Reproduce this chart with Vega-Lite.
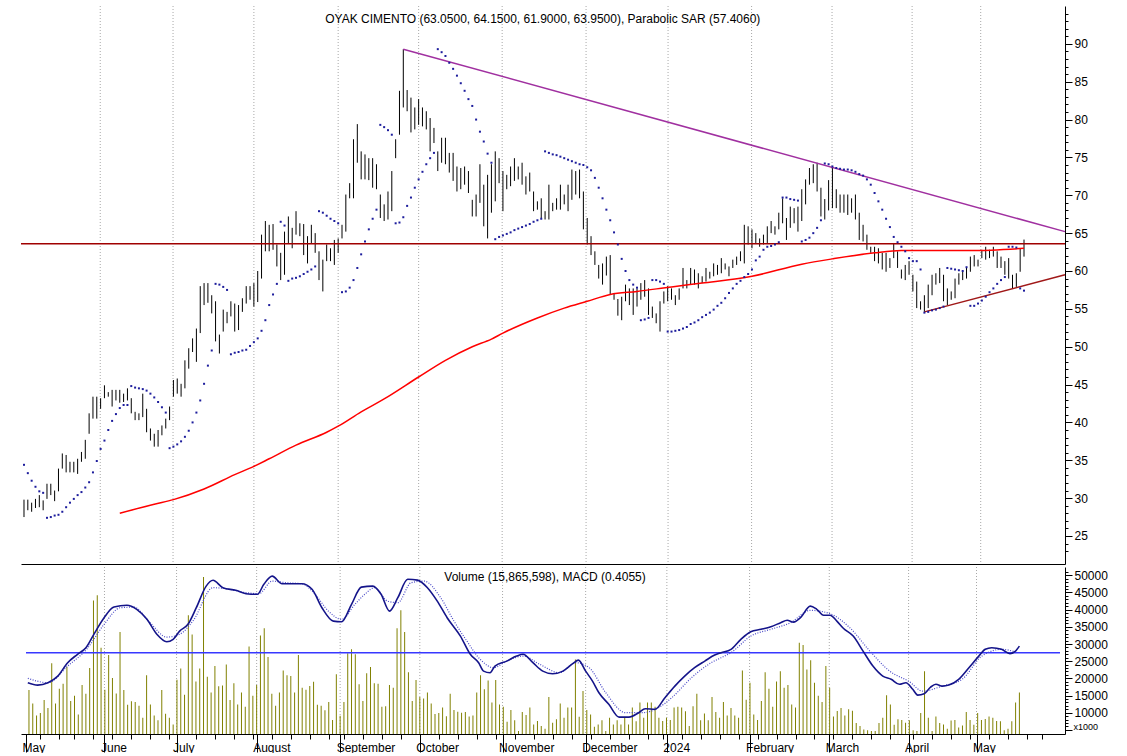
{
"$schema": "https://vega.github.io/schema/vega-lite/v6.json",
"padding": {"left": 18, "top": 5, "right": 0, "bottom": 0},
"background": "#ffffff",
"spacing": 0,
"config": {"view": {"stroke": null}, "font": "Liberation Sans",
  "axis": {"labelFont": "Liberation Sans", "labelFontSize": 12, "labelColor": "#000000", "domainColor": "#000000", "tickColor": "#000000", "titleFont": "Liberation Sans", "titleColor": "#000000", "labelOverlap": false, "labelFlush": false, "grid": false}},
"datasets": {
"bars": [
{"t":0,"h":29.8,"l":27.5,"s":34.4,"v":16600},{"t":1,"h":29.8,"l":28.4,"s":33.3,"v":12700},{"t":2,"h":29.4,"l":28.2,"s":32.3,"v":9200},{"t":3,"h":29.9,"l":28.7,"s":31.5,"v":9900},{"t":4,"h":30.4,"l":28.8,"s":30.9,"v":13700},{"t":5,"h":29.7,"l":28.4,"s":30.7,"v":11400},{"t":6,"h":31.9,"l":29.9,"s":27.4,"v":24400},{"t":7,"h":31.9,"l":30.4,"s":27.5,"v":12700},{"t":8,"h":31.0,"l":29.6,"s":27.7,"v":17000},{"t":9,"h":33.9,"l":30.9,"s":27.8,"v":18400},
{"t":10,"h":35.9,"l":33.9,"s":28.2,"v":23400},{"t":11,"h":35.7,"l":33.4,"s":28.8,"v":13400},{"t":12,"h":34.8,"l":33.4,"s":29.4,"v":14900},{"t":13,"h":34.8,"l":33.4,"s":29.9,"v":9500},{"t":14,"h":35.2,"l":33.2,"s":30.4,"v":18100},{"t":15,"h":36.1,"l":34.8,"s":30.8,"v":15500},{"t":16,"h":37.7,"l":35.2,"s":31.4,"v":23000},{"t":17,"h":41.2,"l":38.5,"s":32.1,"v":42700},{"t":18,"h":43.4,"l":40.5,"s":33.4,"v":44200},{"t":19,"h":43.4,"l":40.5,"s":34.9,"v":28900},
{"t":20,"h":43.2,"l":41.8,"s":36.5,"v":16700},{"t":21,"h":44.9,"l":43.2,"s":37.6,"v":26800},{"t":22,"h":44.0,"l":43.4,"s":39.0,"v":20100},{"t":23,"h":44.3,"l":42.1,"s":40.2,"v":15600},{"t":24,"h":44.3,"l":42.9,"s":41.1,"v":33500},{"t":25,"h":44.3,"l":42.6,"s":41.9,"v":16600},{"t":26,"h":43.8,"l":42.7,"s":42.3,"v":12300},{"t":27,"h":44.5,"l":42.9,"s":42.3,"v":13300},{"t":28,"h":43.2,"l":41.2,"s":44.8,"v":13100},{"t":29,"h":41.4,"l":40.3,"s":44.6,"v":12000},
{"t":30,"h":41.2,"l":40.3,"s":44.5,"v":8500},{"t":31,"h":43.8,"l":40.7,"s":44.4,"v":20900},{"t":32,"h":41.8,"l":38.7,"s":44.2,"v":12400},{"t":33,"h":39.2,"l":37.6,"s":43.8,"v":9200},{"t":34,"h":38.5,"l":36.8,"s":43.3,"v":7800},{"t":35,"h":39.0,"l":36.8,"s":42.7,"v":16600},{"t":36,"h":39.6,"l":38.3,"s":42.0,"v":9700},{"t":37,"h":40.5,"l":39.2,"s":41.3,"v":8500},{"t":38,"h":42.1,"l":40.3,"s":36.6,"v":6600},{"t":39,"h":45.6,"l":43.4,"s":36.8,"v":19600},
{"t":40,"h":45.8,"l":43.8,"s":37.1,"v":22900},{"t":41,"h":45.1,"l":43.4,"s":37.5,"v":15200},{"t":42,"h":48.2,"l":44.5,"s":38.1,"v":38400},{"t":43,"h":49.8,"l":47.1,"s":38.9,"v":32800},{"t":44,"h":51.1,"l":49.3,"s":40.0,"v":19100},{"t":45,"h":52.4,"l":48.0,"s":41.3,"v":22900},{"t":46,"h":58.0,"l":51.8,"s":42.9,"v":49500},{"t":47,"h":58.4,"l":55.5,"s":45.1,"v":20500},{"t":48,"h":58.4,"l":55.8,"s":47.5,"v":15900},{"t":49,"h":56.8,"l":54.4,"s":49.5,"v":23600},
{"t":50,"h":56.0,"l":50.7,"s":58.3,"v":17700},{"t":51,"h":51.6,"l":49.1,"s":58.2,"v":17900},{"t":52,"h":54.9,"l":52.0,"s":57.9,"v":24000},{"t":53,"h":54.6,"l":53.1,"s":57.5,"v":13700},{"t":54,"h":56.0,"l":54.0,"s":49.0,"v":18600},{"t":55,"h":55.7,"l":52.0,"s":49.2,"v":12400},{"t":56,"h":55.5,"l":52.2,"s":49.3,"v":15900},{"t":57,"h":56.4,"l":54.6,"s":49.5,"v":11700},{"t":58,"h":58.0,"l":55.7,"s":49.6,"v":29300},{"t":59,"h":58.0,"l":56.2,"s":50.1,"v":14900},
{"t":60,"h":58.4,"l":55.3,"s":50.6,"v":18100},{"t":61,"h":60.0,"l":55.9,"s":51.1,"v":32500},{"t":62,"h":64.8,"l":59.0,"s":52.1,"v":34600},{"t":63,"h":66.6,"l":62.6,"s":53.5,"v":26200},{"t":64,"h":66.1,"l":62.6,"s":55.5,"v":15500},{"t":65,"h":66.2,"l":62.8,"s":56.9,"v":12000},{"t":66,"h":63.5,"l":60.6,"s":58.3,"v":15900},{"t":67,"h":62.4,"l":58.8,"s":66.5,"v":22300},{"t":68,"h":65.2,"l":59.5,"s":66.0,"v":20900},{"t":69,"h":67.2,"l":63.7,"s":58.7,"v":20700},
{"t":70,"h":65.7,"l":63.0,"s":59.0,"v":15900},{"t":71,"h":67.9,"l":64.8,"s":59.1,"v":26800},{"t":72,"h":66.3,"l":64.6,"s":59.3,"v":17300},{"t":73,"h":66.2,"l":62.1,"s":59.6,"v":16700},{"t":74,"h":64.6,"l":61.0,"s":59.9,"v":17800},{"t":75,"h":66.1,"l":63.7,"s":60.2,"v":19000},{"t":76,"h":65.0,"l":62.4,"s":60.6,"v":12300},{"t":77,"h":62.6,"l":58.8,"s":67.9,"v":12000},{"t":78,"h":61.5,"l":57.3,"s":67.7,"v":10700},{"t":79,"h":63.5,"l":61.3,"s":67.3,"v":13100},
{"t":80,"h":63.0,"l":61.3,"s":66.9,"v":7900},{"t":81,"h":64.1,"l":60.8,"s":66.6,"v":21200},{"t":82,"h":64.3,"l":62.4,"s":66.3,"v":9100},{"t":83,"h":66.1,"l":64.3,"s":57.2,"v":13100},{"t":84,"h":70.1,"l":65.2,"s":57.3,"v":27300},{"t":85,"h":71.6,"l":69.6,"s":57.8,"v":28500},{"t":86,"h":77.4,"l":69.6,"s":58.8,"v":27000},{"t":87,"h":79.4,"l":74.3,"s":60.4,"v":18300},{"t":88,"h":75.8,"l":72.1,"s":62.2,"v":13400},{"t":89,"h":75.4,"l":72.1,"s":63.9,"v":21500},
{"t":90,"h":74.9,"l":72.0,"s":65.5,"v":23300},{"t":91,"h":74.9,"l":71.0,"s":66.9,"v":18600},{"t":92,"h":74.1,"l":70.8,"s":68.1,"v":18400},{"t":93,"h":70.1,"l":67.0,"s":79.3,"v":11700},{"t":94,"h":68.8,"l":66.6,"s":79.0,"v":11900},{"t":95,"h":70.5,"l":66.8,"s":78.6,"v":18100},{"t":96,"h":73.2,"l":67.9,"s":78.0,"v":17300},{"t":97,"h":77.4,"l":74.9,"s":66.3,"v":34600},{"t":98,"h":83.8,"l":78.0,"s":66.4,"v":39800},{"t":99,"h":89.3,"l":81.6,"s":67.1,"v":33500},
{"t":100,"h":83.9,"l":81.1,"s":68.6,"v":21800},{"t":101,"h":82.9,"l":78.3,"s":69.7,"v":13400},{"t":102,"h":81.6,"l":78.7,"s":71.0,"v":19500},{"t":103,"h":82.7,"l":79.3,"s":72.1,"v":14600},{"t":104,"h":81.6,"l":79.1,"s":73.1,"v":14100},{"t":105,"h":81.1,"l":78.7,"s":74.1,"v":15900},{"t":106,"h":80.2,"l":75.8,"s":74.9,"v":12700},{"t":107,"h":78.9,"l":76.9,"s":75.6,"v":9600},{"t":108,"h":75.8,"l":73.2,"s":89.3,"v":9900},{"t":109,"h":77.6,"l":74.3,"s":88.9,"v":11500},
{"t":110,"h":77.6,"l":74.1,"s":88.4,"v":9000},{"t":111,"h":75.6,"l":73.0,"s":87.5,"v":15500},{"t":112,"h":75.6,"l":71.9,"s":86.7,"v":10800},{"t":113,"h":73.8,"l":70.5,"s":85.8,"v":10300},{"t":114,"h":73.6,"l":70.8,"s":84.8,"v":10000},{"t":115,"h":73.8,"l":71.4,"s":83.8,"v":10200},{"t":116,"h":73.2,"l":70.3,"s":82.7,"v":8900},{"t":117,"h":69.4,"l":67.2,"s":81.8,"v":9200},{"t":118,"h":70.1,"l":67.2,"s":80.0,"v":15900},{"t":119,"h":74.1,"l":69.0,"s":78.4,"v":20900},
{"t":120,"h":71.4,"l":65.9,"s":77.1,"v":16800},{"t":121,"h":72.7,"l":64.3,"s":75.5,"v":19400},{"t":122,"h":74.1,"l":67.7,"s":74.3,"v":13000},{"t":123,"h":75.8,"l":69.2,"s":64.2,"v":19500},{"t":124,"h":74.9,"l":71.6,"s":64.5,"v":12400},{"t":125,"h":73.2,"l":67.9,"s":64.7,"v":11700},{"t":126,"h":72.7,"l":70.8,"s":64.9,"v":7400},{"t":127,"h":73.8,"l":71.2,"s":65.1,"v":10800},{"t":128,"h":74.9,"l":71.9,"s":65.4,"v":7800},{"t":129,"h":73.8,"l":72.1,"s":65.6,"v":4700},
{"t":130,"h":74.3,"l":71.4,"s":65.8,"v":10200},{"t":131,"h":72.5,"l":70.1,"s":66.0,"v":9300},{"t":132,"h":73.0,"l":70.5,"s":66.2,"v":11500},{"t":133,"h":70.5,"l":67.9,"s":66.5,"v":6600},{"t":134,"h":69.2,"l":68.1,"s":66.7,"v":7600},{"t":135,"h":69.6,"l":67.0,"s":66.9,"v":6100},{"t":136,"h":67.9,"l":66.8,"s":75.8,"v":5300},{"t":137,"h":71.4,"l":66.8,"s":75.6,"v":14600},{"t":138,"h":69.0,"l":67.9,"s":75.4,"v":7100},{"t":139,"h":69.6,"l":68.1,"s":75.3,"v":8100},
{"t":140,"h":71.4,"l":68.1,"s":75.1,"v":12700},{"t":141,"h":70.1,"l":68.8,"s":74.9,"v":8500},{"t":142,"h":71.4,"l":67.9,"s":74.7,"v":11500},{"t":143,"h":73.4,"l":69.4,"s":74.5,"v":11500},{"t":144,"h":73.2,"l":70.1,"s":74.3,"v":25500},{"t":145,"h":73.4,"l":69.6,"s":74.1,"v":8800},{"t":146,"h":70.5,"l":65.5,"s":74.0,"v":16300},{"t":147,"h":67.0,"l":63.5,"s":73.7,"v":10800},{"t":148,"h":64.6,"l":62.1,"s":73.3,"v":9500},{"t":149,"h":62.6,"l":60.8,"s":72.3,"v":5900},
{"t":150,"h":60.8,"l":59.0,"s":71.0,"v":6600},{"t":151,"h":61.0,"l":58.2,"s":69.6,"v":7800},{"t":152,"h":61.9,"l":59.4,"s":68.1,"v":4700},{"t":153,"h":62.1,"l":56.9,"s":66.7,"v":8500},{"t":154,"h":57.1,"l":56.2,"s":65.1,"v":6600},{"t":155,"h":56.3,"l":54.1,"s":63.5,"v":7800},{"t":156,"h":56.6,"l":53.5,"s":61.6,"v":6600},{"t":157,"h":58.2,"l":56.0,"s":60.0,"v":8500},{"t":158,"h":57.7,"l":55.5,"s":58.8,"v":6600},{"t":159,"h":57.7,"l":54.2,"s":58.2,"v":11500},
{"t":160,"h":57.7,"l":55.3,"s":57.8,"v":7500},{"t":161,"h":58.4,"l":56.2,"s":53.5,"v":13000},{"t":162,"h":58.8,"l":56.6,"s":53.6,"v":8500},{"t":163,"h":57.7,"l":54.2,"s":53.8,"v":13000},{"t":164,"h":55.3,"l":53.8,"s":58.8,"v":13000},{"t":165,"h":54.4,"l":53.1,"s":58.8,"v":11700},{"t":166,"h":56.0,"l":52.0,"s":58.6,"v":8500},{"t":167,"h":57.3,"l":55.7,"s":58.3,"v":7600},{"t":168,"h":58.0,"l":56.0,"s":52.0,"v":8500},{"t":169,"h":57.7,"l":56.2,"s":52.0,"v":7900},
{"t":170,"h":56.8,"l":55.5,"s":52.1,"v":11500},{"t":171,"h":57.7,"l":56.2,"s":52.2,"v":11700},{"t":172,"h":60.4,"l":57.7,"s":52.4,"v":11500},{"t":173,"h":58.8,"l":57.7,"s":52.6,"v":10400},{"t":174,"h":60.4,"l":58.2,"s":53.0,"v":6100},{"t":175,"h":60.2,"l":58.2,"s":53.2,"v":11900},{"t":176,"h":59.7,"l":57.7,"s":53.5,"v":15500},{"t":177,"h":59.3,"l":58.4,"s":53.9,"v":7800},{"t":178,"h":60.4,"l":58.6,"s":54.2,"v":9800},{"t":179,"h":59.9,"l":59.0,"s":54.5,"v":7800},
{"t":180,"h":61.0,"l":59.3,"s":54.9,"v":14600},{"t":181,"h":60.8,"l":59.5,"s":55.4,"v":10200},{"t":182,"h":61.7,"l":59.7,"s":55.8,"v":8500},{"t":183,"h":61.0,"l":60.2,"s":56.4,"v":13100},{"t":184,"h":60.6,"l":59.3,"s":57.1,"v":9200},{"t":185,"h":61.5,"l":60.4,"s":57.7,"v":11400},{"t":186,"h":61.9,"l":60.8,"s":58.3,"v":9200},{"t":187,"h":62.6,"l":61.3,"s":58.7,"v":8500},{"t":188,"h":66.1,"l":61.0,"s":59.2,"v":22300},{"t":189,"h":65.9,"l":63.5,"s":59.6,"v":13800},
{"t":190,"h":65.5,"l":63.0,"s":60.2,"v":18700},{"t":191,"h":65.0,"l":63.7,"s":61.4,"v":9500},{"t":192,"h":64.3,"l":63.2,"s":61.9,"v":7900},{"t":193,"h":64.8,"l":63.5,"s":62.8,"v":13400},{"t":194,"h":65.9,"l":63.7,"s":63.2,"v":21800},{"t":195,"h":66.6,"l":65.0,"s":63.3,"v":17000},{"t":196,"h":65.9,"l":64.8,"s":63.5,"v":11700},{"t":197,"h":67.7,"l":65.5,"s":63.8,"v":19100},{"t":198,"h":69.6,"l":66.3,"s":69.7,"v":22100},{"t":199,"h":67.0,"l":64.1,"s":69.7,"v":17300},
{"t":200,"h":68.5,"l":65.7,"s":69.5,"v":18100},{"t":201,"h":68.3,"l":66.3,"s":69.4,"v":12400},{"t":202,"h":68.5,"l":65.2,"s":69.3,"v":11500},{"t":203,"h":70.8,"l":66.6,"s":63.9,"v":30400},{"t":204,"h":72.1,"l":68.8,"s":64.1,"v":29700},{"t":205,"h":73.6,"l":71.4,"s":64.4,"v":22600},{"t":206,"h":74.1,"l":71.6,"s":65.0,"v":25300},{"t":207,"h":74.3,"l":70.5,"s":65.7,"v":18700},{"t":208,"h":71.0,"l":67.2,"s":66.7,"v":14900},{"t":209,"h":69.5,"l":66.8,"s":74.2,"v":13100},
{"t":210,"h":72.0,"l":68.0,"s":74.1,"v":23600},{"t":211,"h":73.6,"l":68.3,"s":73.8,"v":17300},{"t":212,"h":70.8,"l":68.3,"s":73.6,"v":8900},{"t":213,"h":70.1,"l":67.7,"s":73.5,"v":10500},{"t":214,"h":70.1,"l":67.7,"s":73.4,"v":11400},{"t":215,"h":70.1,"l":67.4,"s":73.4,"v":9200},{"t":216,"h":69.6,"l":67.7,"s":73.3,"v":11000},{"t":217,"h":70.1,"l":66.8,"s":73.1,"v":10600},{"t":218,"h":67.7,"l":64.1,"s":72.8,"v":7000},{"t":219,"h":66.1,"l":63.9,"s":72.6,"v":6100},
{"t":220,"h":64.8,"l":62.8,"s":72.1,"v":5100},{"t":221,"h":63.2,"l":62.4,"s":71.4,"v":4900},{"t":222,"h":63.2,"l":61.3,"s":70.3,"v":4700},{"t":223,"h":63.0,"l":61.0,"s":69.2,"v":4700},{"t":224,"h":62.4,"l":60.2,"s":68.1,"v":7000},{"t":225,"h":62.4,"l":59.9,"s":66.9,"v":8500},{"t":226,"h":61.7,"l":60.4,"s":65.8,"v":15100},{"t":227,"h":63.7,"l":61.7,"s":64.5,"v":12400},{"t":228,"h":62.6,"l":60.4,"s":63.8,"v":6500},{"t":229,"h":60.2,"l":59.0,"s":63.2,"v":8100},
{"t":230,"h":60.8,"l":58.8,"s":62.6,"v":7900},{"t":231,"h":61.3,"l":59.5,"s":61.7,"v":7100},{"t":232,"h":59.5,"l":57.3,"s":61.3,"v":7800},{"t":233,"h":58.6,"l":55.1,"s":61.3,"v":4900},{"t":234,"h":56.0,"l":54.9,"s":60.2,"v":4700},{"t":235,"h":56.8,"l":54.6,"s":54.5,"v":9900},{"t":236,"h":58.2,"l":55.1,"s":54.6,"v":22100},{"t":237,"h":59.5,"l":56.8,"s":54.8,"v":8500},{"t":238,"h":59.7,"l":58.2,"s":54.9,"v":4700},{"t":239,"h":60.4,"l":58.4,"s":55.1,"v":8900},
{"t":240,"h":59.5,"l":56.0,"s":55.3,"v":7000},{"t":241,"h":57.7,"l":55.5,"s":60.4,"v":6600},{"t":242,"h":57.3,"l":56.2,"s":60.3,"v":5300},{"t":243,"h":59.0,"l":56.4,"s":60.2,"v":7700},{"t":244,"h":59.7,"l":58.2,"s":60.1,"v":7900},{"t":245,"h":59.9,"l":58.8,"s":60.0,"v":5700},{"t":246,"h":60.4,"l":59.0,"s":60.5,"v":6300},{"t":247,"h":61.9,"l":59.9,"s":55.4,"v":10200},{"t":248,"h":62.1,"l":60.6,"s":55.4,"v":7900},{"t":249,"h":61.5,"l":60.6,"s":55.7,"v":6500},
{"t":250,"h":62.8,"l":61.7,"s":56.1,"v":9900},{"t":251,"h":63.2,"l":61.5,"s":56.6,"v":7900},{"t":252,"h":62.8,"l":61.7,"s":57.2,"v":8200},{"t":253,"h":63.2,"l":61.9,"s":57.7,"v":8900},{"t":254,"h":62.6,"l":60.4,"s":58.3,"v":8500},{"t":255,"h":61.9,"l":60.4,"s":58.8,"v":7600},{"t":256,"h":61.3,"l":59.5,"s":59.2,"v":7500},{"t":257,"h":61.7,"l":59.0,"s":63.2,"v":4900},{"t":258,"h":59.5,"l":57.7,"s":63.2,"v":5300},{"t":259,"h":59.7,"l":57.9,"s":63.1,"v":7500},
{"t":260,"h":63.0,"l":59.9,"s":57.7,"v":13000},{"t":261,"h":64.15,"l":61.9,"s":57.406,"v":15866}
],
"ma": [
{"t":25,"m":28.0},{"t":34,"m":29.2},{"t":39,"m":29.8},{"t":47,"m":31.2},{"t":55,"m":33.1},{"t":60,"m":34.2},{"t":64,"m":35.2},{"t":71,"m":37.0},{"t":79,"m":38.7},{"t":82,"m":39.5},{"t":88,"m":41.4},{"t":94,"m":43.1},{"t":103,"m":46.0},{"t":110,"m":48.2},{"t":117,"m":50.0},{"t":122,"m":51.0},{"t":125,"m":51.8},{"t":134,"m":53.8},{"t":141,"m":55.1},{"t":147,"m":56.0},{"t":153,"m":56.9},{"t":160,"m":57.3},{"t":169,"m":57.9},{"t":177,"m":58.4},{"t":190,"m":59.3},{"t":203,"m":60.9},{"t":211,"m":61.6},{"t":222,"m":62.4},{"t":229,"m":62.7},{"t":247,"m":62.7},{"t":261,"m":63.0}
],
"tl": [
{"t":99,"p":89.3,"k":"r"},{"t":271.7,"p":65.2,"k":"r"},{"t":235,"p":54.6,"k":"s"},{"t":271.7,"p":59.5,"k":"s"}
],
"hl": [{"t":-0.78,"p":63.6},{"t":271.7,"p":63.6}],
"zero": [{"t":-0.78,"a":0},{"t":271.7,"a":0}],
"months": [{"t":19.9},{"t":38.9},{"t":60},{"t":82},{"t":103},{"t":124.8},{"t":146.7},{"t":168.1},{"t":189.9},{"t":210.9},{"t":231.8},{"t":249.7}],
"ttop": [{"t":135.4,"p":93.28,"txt":"OYAK CIMENTO (63.0500, 64.1500, 61.9000, 63.9500), Parabolic SAR (57.4060)"}],
"tbot": [{"t":136,"v":49500,"txt":"Volume (15,865,598), MACD (0.4055)"}],
"macd": [
{"t":-0.3,"a":-1.5},{"t":2.3,"a":-1.62},{"t":5,"a":-1.5},{"t":7.6,"a":-1.17},{"t":10.2,"a":-0.5},{"t":12.8,"a":-0.08},{"t":15,"a":0.25},{"t":17.1,"a":0.92},{"t":19.8,"a":1.75},{"t":22.4,"a":2.28},{"t":25.8,"a":2.37},{"t":28.4,"a":2.17},{"t":31.1,"a":1.67},{"t":33.7,"a":0.92},{"t":36.3,"a":0.55},{"t":38,"a":0.67},{"t":39.7,"a":1.08},{"t":41.9,"a":1.42},{"t":44.1,"a":2.25},{"t":46.7,"a":3.33},{"t":48.5,"a":3.62},{"t":51.1,"a":3.25},{"t":54.5,"a":3.12},{"t":57.2,"a":2.95},{"t":60.2,"a":2.92},{"t":61.9,"a":3.42},{"t":64.1,"a":3.83},{"t":66.7,"a":3.45},{"t":69.3,"a":3.45},{"t":71.9,"a":3.45},{"t":74.6,"a":3.17},{"t":77.2,"a":2.25},{"t":80.2,"a":1.58},{"t":82.4,"a":1.55},{"t":85,"a":2.42},{"t":87.6,"a":3.28},{"t":90.6,"a":3.33},{"t":92.8,"a":2.92},{"t":95,"a":2.08},{"t":97.2,"a":2.75},{"t":99.8,"a":3.67},{"t":102.4,"a":3.63},{"t":105,"a":3.25},{"t":107.6,"a":2.58},{"t":110.2,"a":1.75},{"t":113.7,"a":0.83},{"t":116.3,"a":-0.08},{"t":118.5,"a":-0.5},{"t":119.8,"a":-0.92},{"t":121.5,"a":-1.0},{"t":122.8,"a":-0.67},{"t":125.9,"a":-0.42},{"t":128.5,"a":-0.17},{"t":130.2,"a":-0.08},{"t":132.8,"a":-0.5},{"t":135.4,"a":-0.92},{"t":138,"a":-1.05},{"t":140.7,"a":-0.92},{"t":143.3,"a":-0.55},{"t":144.8,"a":-0.37},{"t":146.7,"a":-0.92},{"t":148.5,"a":-1.42},{"t":150.2,"a":-2.0},{"t":152.8,"a":-2.58},{"t":155.5,"a":-3.22},{"t":158.1,"a":-3.22},{"t":160.7,"a":-3.0},{"t":162.4,"a":-2.8},{"t":165,"a":-2.83},{"t":167.6,"a":-2.25},{"t":170.2,"a":-1.67},{"t":172.8,"a":-1.17},{"t":175.4,"a":-0.75},{"t":178.1,"a":-0.42},{"t":180.7,"a":-0.12},{"t":182.4,"a":0.0},{"t":185,"a":0.17},{"t":187.6,"a":0.67},{"t":190.2,"a":1.05},{"t":192.9,"a":1.17},{"t":195.5,"a":1.3},{"t":198.1,"a":1.5},{"t":199.8,"a":1.62},{"t":201.5,"a":1.53},{"t":203.3,"a":1.75},{"t":205.9,"a":2.33},{"t":207.6,"a":2.17},{"t":209.4,"a":1.87},{"t":211.1,"a":1.87},{"t":212.9,"a":1.58},{"t":214.6,"a":1.22},{"t":217.2,"a":0.83},{"t":219.8,"a":0.08},{"t":222.4,"a":-0.67},{"t":225,"a":-1.17},{"t":227.2,"a":-1.33},{"t":229.4,"a":-1.58},{"t":231.1,"a":-1.5},{"t":232.9,"a":-1.83},{"t":234.2,"a":-2.12},{"t":235.9,"a":-2.05},{"t":237.6,"a":-1.72},{"t":239,"a":-1.58},{"t":240.7,"a":-1.67},{"t":242.4,"a":-1.62},{"t":245,"a":-1.33},{"t":247.7,"a":-0.75},{"t":250.3,"a":-0.17},{"t":252,"a":0.17},{"t":253.7,"a":0.25},{"t":256.3,"a":0.17},{"t":258.5,"a":-0.05},{"t":259.8,"a":0.05},{"t":261,"a":0.33}
],
"sig": [
{"t":-0.3,"g":-1.28},{"t":5,"g":-1.5},{"t":10.2,"g":-0.67},{"t":15.4,"g":0.22},{"t":19.8,"g":1.42},{"t":24.1,"g":2.25},{"t":27.6,"g":2.28},{"t":31.9,"g":1.5},{"t":36.3,"g":0.78},{"t":39.7,"g":0.92},{"t":43.2,"g":1.58},{"t":48.5,"g":3.25},{"t":51.9,"g":3.2},{"t":57.2,"g":3.0},{"t":60.6,"g":2.95},{"t":64.1,"g":3.58},{"t":67.6,"g":3.5},{"t":71.9,"g":3.45},{"t":75.4,"g":2.92},{"t":78.9,"g":2.08},{"t":82.4,"g":1.67},{"t":85.9,"g":2.42},{"t":88.5,"g":2.92},{"t":91.1,"g":3.25},{"t":94.5,"g":2.58},{"t":97.2,"g":2.5},{"t":100.7,"g":3.5},{"t":104.1,"g":3.58},{"t":108.5,"g":2.75},{"t":112,"g":1.58},{"t":115.4,"g":0.58},{"t":118.9,"g":-0.33},{"t":122.4,"g":-0.75},{"t":125.9,"g":-0.42},{"t":130.2,"g":-0.17},{"t":134.6,"g":-0.58},{"t":139.8,"g":-1.0},{"t":144.1,"g":-0.5},{"t":147.6,"g":-0.75},{"t":152,"g":-2.0},{"t":157.2,"g":-3.0},{"t":161.5,"g":-3.0},{"t":165.9,"g":-2.75},{"t":169.4,"g":-2.25},{"t":174.6,"g":-1.25},{"t":179.8,"g":-0.5},{"t":182.4,"g":-0.25},{"t":185,"g":0},{"t":190.2,"g":0.83},{"t":195.5,"g":1.17},{"t":200.7,"g":1.5},{"t":205.9,"g":2.12},{"t":211.1,"g":1.95},{"t":216.3,"g":1.25},{"t":221.6,"g":0.08},{"t":226.8,"g":-0.92},{"t":232,"g":-1.45},{"t":235.5,"g":-1.92},{"t":240.7,"g":-1.67},{"t":245.9,"g":-1.33},{"t":251.1,"g":-0.17},{"t":256.3,"g":0.17},{"t":259.8,"g":0.05}
]
},
"vconcat": [
{
 "width": 1044, "height": 558,
 "encoding": {
  "x": {"field": "t", "type": "quantitative", "scale": {"domain": [-0.78, 271.7], "nice": false, "zero": false},
    "axis": {"values": [19.9, 38.9, 60, 82, 103, 124.8, 146.7, 168.1, 189.9, 210.9, 231.8, 249.7], "grid": false, "ticks": false, "labels": false, "domain": true, "domainColor": "#000000", "domainWidth": 1, "title": null, "labelOverlap": false, "minExtent": 0, "maxExtent": 0, "offset": 0}}
 },
 "layer": [
  {"data": {"name": "months"}, "mark": {"type": "rule", "color": "#a8a8a8", "strokeWidth": 1, "strokeDash": [1, 2]}, "encoding": {}},
  {"data": {"name": "bars"}, "mark": {"type": "rule", "color": "#000000", "strokeWidth": 1},
   "encoding": {
    "y": {"field": "h", "type": "quantitative", "scale": {"domain": [21.3, 95], "nice": false, "zero": false},
      "axis": {"orient": "right", "values": [23,24,25,26,27,28,29,30,31,32,33,34,35,36,37,38,39,40,41,42,43,44,45,46,47,48,49,50,51,52,53,54,55,56,57,58,59,60,61,62,63,64,65,66,67,68,69,70,71,72,73,74,75,76,77,78,79,80,81,82,83,84,85,86,87,88,89,90,91,92,93,94], "labelExpr": "(datum.value % 5 == 0 && datum.value >= 25 && datum.value <= 90) ? datum.label : ''", "tickSize": {"condition": {"test": "datum.value % 5 == 0", "value": 7}, "value": 3}, "labelPadding": 2, "labelBaseline": "middle", "labelOverlap": false, "labelFlush": false, "labelBound": false, "grid": false, "title": null, "domainColor": "#000000"}},
    "y2": {"field": "l"}
   }},
  {"data": {"name": "hl"}, "mark": {"type": "line", "color": "#a00000", "strokeWidth": 1.5},
   "encoding": {"y": {"field": "p", "type": "quantitative", "scale": {"domain": [21.3, 95], "nice": false, "zero": false},
      "axis": {"orient": "right", "values": [23,24,25,26,27,28,29,30,31,32,33,34,35,36,37,38,39,40,41,42,43,44,45,46,47,48,49,50,51,52,53,54,55,56,57,58,59,60,61,62,63,64,65,66,67,68,69,70,71,72,73,74,75,76,77,78,79,80,81,82,83,84,85,86,87,88,89,90,91,92,93,94], "labelExpr": "(datum.value % 5 == 0 && datum.value >= 25 && datum.value <= 90) ? datum.label : ''", "tickSize": {"condition": {"test": "datum.value % 5 == 0", "value": 7}, "value": 3}, "labelPadding": 2, "labelBaseline": "middle", "labelOverlap": false, "labelFlush": false, "labelBound": false, "grid": false, "title": null, "domainColor": "#000000"}}}},
  {"data": {"name": "ma"}, "mark": {"type": "line", "color": "#ff0000", "strokeWidth": 1.5, "interpolate": "monotone"},
   "encoding": {"y": {"field": "m", "type": "quantitative", "scale": {"domain": [21.3, 95], "nice": false, "zero": false},
      "axis": {"orient": "right", "values": [23,24,25,26,27,28,29,30,31,32,33,34,35,36,37,38,39,40,41,42,43,44,45,46,47,48,49,50,51,52,53,54,55,56,57,58,59,60,61,62,63,64,65,66,67,68,69,70,71,72,73,74,75,76,77,78,79,80,81,82,83,84,85,86,87,88,89,90,91,92,93,94], "labelExpr": "(datum.value % 5 == 0 && datum.value >= 25 && datum.value <= 90) ? datum.label : ''", "tickSize": {"condition": {"test": "datum.value % 5 == 0", "value": 7}, "value": 3}, "labelPadding": 2, "labelBaseline": "middle", "labelOverlap": false, "labelFlush": false, "labelBound": false, "grid": false, "title": null, "domainColor": "#000000"}}}},
  {"data": {"name": "tl"}, "mark": {"type": "line", "strokeWidth": 1.5},
   "encoding": {
    "y": {"field": "p", "type": "quantitative", "scale": {"domain": [21.3, 95], "nice": false, "zero": false},
      "axis": {"orient": "right", "values": [23,24,25,26,27,28,29,30,31,32,33,34,35,36,37,38,39,40,41,42,43,44,45,46,47,48,49,50,51,52,53,54,55,56,57,58,59,60,61,62,63,64,65,66,67,68,69,70,71,72,73,74,75,76,77,78,79,80,81,82,83,84,85,86,87,88,89,90,91,92,93,94], "labelExpr": "(datum.value % 5 == 0 && datum.value >= 25 && datum.value <= 90) ? datum.label : ''", "tickSize": {"condition": {"test": "datum.value % 5 == 0", "value": 7}, "value": 3}, "labelPadding": 2, "labelBaseline": "middle", "labelOverlap": false, "labelFlush": false, "labelBound": false, "grid": false, "title": null, "domainColor": "#000000"}},
    "detail": {"field": "k", "type": "nominal"},
    "color": {"field": "k", "type": "nominal", "scale": {"domain": ["r", "s"], "range": ["#a030a0", "#a01818"]}, "legend": null}}},
  {"data": {"name": "bars"}, "mark": {"type": "point", "shape": "square", "size": 4, "filled": true, "color": "#1c1c9c", "opacity": 1, "strokeWidth": 0},
   "encoding": {"y": {"field": "s", "type": "quantitative", "scale": {"domain": [21.3, 95], "nice": false, "zero": false},
      "axis": {"orient": "right", "values": [23,24,25,26,27,28,29,30,31,32,33,34,35,36,37,38,39,40,41,42,43,44,45,46,47,48,49,50,51,52,53,54,55,56,57,58,59,60,61,62,63,64,65,66,67,68,69,70,71,72,73,74,75,76,77,78,79,80,81,82,83,84,85,86,87,88,89,90,91,92,93,94], "labelExpr": "(datum.value % 5 == 0 && datum.value >= 25 && datum.value <= 90) ? datum.label : ''", "tickSize": {"condition": {"test": "datum.value % 5 == 0", "value": 7}, "value": 3}, "labelPadding": 2, "labelBaseline": "middle", "labelOverlap": false, "labelFlush": false, "labelBound": false, "grid": false, "title": null, "domainColor": "#000000"}}}},
  {"data": {"name": "ttop"}, "mark": {"type": "text", "fontSize": 12, "font": "Liberation Sans", "align": "center", "baseline": "middle", "color": "#000000"},
   "encoding": {
    "y": {"field": "p", "type": "quantitative", "scale": {"domain": [21.3, 95], "nice": false, "zero": false},
      "axis": {"orient": "right", "values": [23,24,25,26,27,28,29,30,31,32,33,34,35,36,37,38,39,40,41,42,43,44,45,46,47,48,49,50,51,52,53,54,55,56,57,58,59,60,61,62,63,64,65,66,67,68,69,70,71,72,73,74,75,76,77,78,79,80,81,82,83,84,85,86,87,88,89,90,91,92,93,94], "labelExpr": "(datum.value % 5 == 0 && datum.value >= 25 && datum.value <= 90) ? datum.label : ''", "tickSize": {"condition": {"test": "datum.value % 5 == 0", "value": 7}, "value": 3}, "labelPadding": 2, "labelBaseline": "middle", "labelOverlap": false, "labelFlush": false, "labelBound": false, "grid": false, "title": null, "domainColor": "#000000"}},
    "text": {"field": "txt"}}}
 ]
},
{
 "width": 1044, "height": 167,
 "resolve": {"scale": {"y": "independent"}, "axis": {"y": "independent"}},
 "encoding": {
  "x": {"field": "t", "type": "quantitative", "scale": {"domain": [-0.78, 271.7], "nice": false, "zero": false},
    "axis": {"values": [-0.78, 3, 8, 12, 17, 19.9, 22, 27, 32, 37, 38.9, 44, 49, 54, 59, 60, 64, 69, 74, 79, 82, 83, 88, 93, 98, 103, 108, 113, 118, 123, 124.8, 128, 133, 138, 143, 146.7, 148, 153, 158, 163, 167, 168.1, 172, 177, 182, 187, 189.9, 192, 197, 202, 207, 210.9, 212, 217, 222, 227, 231.8, 233, 238, 243, 248, 249.7, 253, 258, 263, 267],
      "labelExpr": "datum.value == -0.78 ? 'May' : datum.value == 19.9 ? 'June' : datum.value == 38.9 ? 'July' : datum.value == 60 ? 'August' : datum.value == 82 ? 'September' : datum.value == 103 ? 'October' : datum.value == 124.8 ? 'November' : datum.value == 146.7 ? 'December' : datum.value == 168.1 ? '2024' : datum.value == 189.9 ? 'February' : datum.value == 210.9 ? 'March' : datum.value == 231.8 ? 'April' : datum.value == 249.7 ? 'May' : ''",
      "tickSize": {"condition": {"test": "indexof([-0.78,19.9,38.9,60,82,103,124.8,146.7,168.1,189.9,210.9,231.8,249.7], datum.value) >= 0", "value": 18}, "value": 5},
      "grid": false, "labelAlign": "left", "labelBaseline": "top", "labelOffset": -4, "labelPadding": -10, "labelOverlap": false, "labelFlush": false, "labelBound": false, "domainColor": "#000000", "title": null}}
 },
 "layer": [
  {"data": {"name": "months"}, "mark": {"type": "rule", "color": "#a8a8a8", "strokeWidth": 1, "strokeDash": [1, 2]}, "encoding": {}},
  {"data": {"name": "bars"}, "mark": {"type": "bar", "color": "#808000", "size": 1, "clip": true},
   "encoding": {
    "y": {"field": "v", "type": "quantitative", "scale": {"domain": [3800, 52420], "nice": false, "zero": false},
      "axis": {"orient": "right", "values": [5000,6000,7000,8000,9000,10000,11000,12000,13000,14000,15000,16000,17000,18000,19000,20000,21000,22000,23000,24000,25000,26000,27000,28000,29000,30000,31000,32000,33000,34000,35000,36000,37000,38000,39000,40000,41000,42000,43000,44000,45000,46000,47000,48000,49000,50000,51000],
        "labelExpr": "(datum.value % 5000 == 0 && datum.value >= 10000 && datum.value <= 50000) ? ('' + datum.value) : ''",
        "tickSize": {"condition": {"test": "datum.value % 5000 == 0", "value": 7}, "value": 3},
        "labelPadding": 2, "labelBaseline": "middle", "labelOverlap": false, "labelFlush": false, "labelBound": false, "grid": false, "domainColor": "#000000",
        "title": "x1000", "titleAngle": 0, "titleAlign": "left", "titleBaseline": "middle", "titleX": 8, "titleY": 159, "titleFontSize": 9, "titleFontWeight": "normal"}}
   }},
  {"data": {"name": "zero"}, "mark": {"type": "line", "color": "#3838ff", "strokeWidth": 1.5},
   "encoding": {"y": {"field": "a", "type": "quantitative", "scale": {"domain": [-4.065, 4.285], "nice": false, "zero": false}, "axis": null}}},
  {"data": {"name": "sig"}, "mark": {"type": "line", "color": "#4a4ac8", "strokeWidth": 1.2, "strokeDash": [1, 1.5], "interpolate": "monotone"},
   "encoding": {"y": {"field": "g", "type": "quantitative", "scale": {"domain": [-4.065, 4.285], "nice": false, "zero": false}, "axis": null}}},
  {"data": {"name": "macd"}, "mark": {"type": "line", "color": "#14148a", "strokeWidth": 1.6, "interpolate": "monotone"},
   "encoding": {"y": {"field": "a", "type": "quantitative", "scale": {"domain": [-4.065, 4.285], "nice": false, "zero": false}, "axis": null}}},
  {"data": {"name": "tbot"}, "mark": {"type": "text", "fontSize": 12, "font": "Liberation Sans", "align": "center", "baseline": "middle", "color": "#000000"},
   "encoding": {
    "y": {"field": "v", "type": "quantitative", "scale": {"domain": [3800, 52420], "nice": false, "zero": false}, "axis": null},
    "text": {"field": "txt"}}}
 ]
}
]
}
